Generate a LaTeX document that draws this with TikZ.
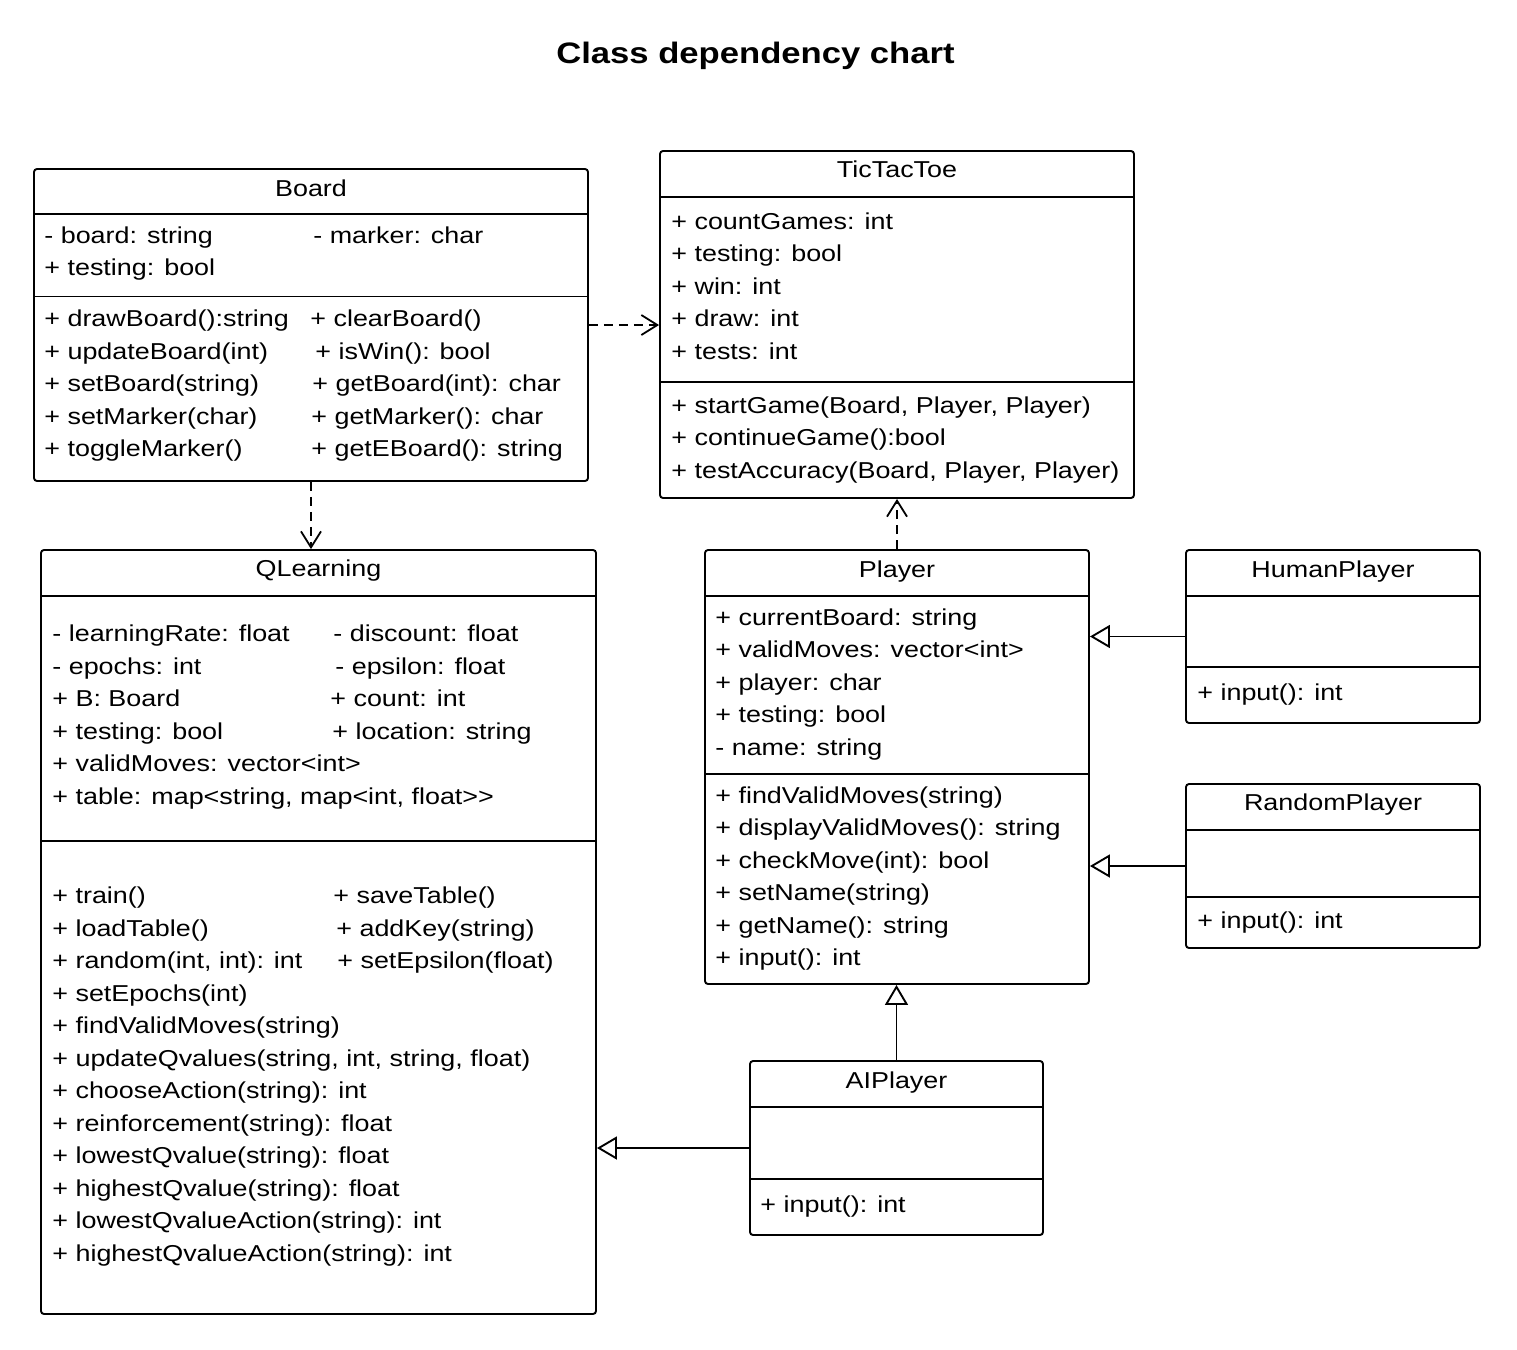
\documentclass[tikz,border=0pt]{standalone}
\usepackage{fontspec}
\setmainfont{Liberation Sans}[FakeStretch=1.17]
\usetikzlibrary{arrows.meta,fit}
\newcommand\umlbody{\fontsize{11.5pt}{14pt}\selectfont}
\newcommand\umlhead{\fontsize{14.8pt}{17pt}\selectfont\bfseries}
\newcommand\umllines[4]{\foreach \t [count=\i from 0] in {#4} {\node[txt] (#1-\i) at (#2,{#3+32.5*\i}) {\t};}}
\tikzset{
  cls/.style={draw, line width=0.95pt, rounded corners=1.5pt, inner sep=0pt},
  txt/.style={anchor=base west, inner sep=0pt, font=\umlbody},
  ttl/.style={anchor=base, inner sep=0pt, font=\umlbody},
  sepline/.style={line width=0.95pt},
  dep/.style={line width=0.9pt, dash pattern=on 4.5pt off 3pt, -{Straight Barb[length=8pt,width=10pt]}},
  gen/.style={line width=0.95pt, -{Triangle[open, length=10pt, width=11.5pt]}}
}
\begin{document}
\begin{tikzpicture}[x=0.5pt, y=-0.5pt]
\fill[white] (0,0) rectangle (1517,1350);
\useasboundingbox (0,0) rectangle (1517,1350);

\node[anchor=base, inner sep=0pt, font=\umlhead] (title) at (755.5,63.3) {Class dependency chart};

% corner coordinates
\coordinate (b1) at (34,169);   \coordinate (b2) at (588,481);
\coordinate (t1) at (660,151);  \coordinate (t2) at (1134,498);
\coordinate (q1) at (41,550);   \coordinate (q2) at (596,1314);
\coordinate (p1) at (705,550);  \coordinate (p2) at (1089,984);
\coordinate (h1) at (1186,550); \coordinate (h2) at (1480,723);
\coordinate (r1) at (1186,784); \coordinate (r2) at (1480,948);
\coordinate (a1) at (750,1061); \coordinate (a2) at (1043,1235);

\node[cls, fit=(b1)(b2)] (board) {};
\node[cls, fit=(t1)(t2)] (ttt) {};
\node[cls, fit=(q1)(q2)] (ql) {};
\node[cls, fit=(p1)(p2)] (player) {};
\node[cls, fit=(h1)(h2)] (human) {};
\node[cls, fit=(r1)(r2)] (random) {};
\node[cls, fit=(a1)(a2)] (ai) {};

% separators
\draw[sepline] (board.west |- 0,214) -- (board.east |- 0,214);
\draw[sepline] (board.west |- 0,296.5) -- (board.east |- 0,296.5);
\draw[sepline] (ttt.west |- 0,197) -- (ttt.east |- 0,197);
\draw[sepline] (ttt.west |- 0,382) -- (ttt.east |- 0,382);
\draw[sepline] (ql.west |- 0,596) -- (ql.east |- 0,596);
\draw[sepline] (ql.west |- 0,841) -- (ql.east |- 0,841);
\draw[sepline] (player.west |- 0,596) -- (player.east |- 0,596);
\draw[sepline] (player.west |- 0,774) -- (player.east |- 0,774);
\draw[sepline] (human.west |- 0,596) -- (human.east |- 0,596);
\draw[sepline] (human.west |- 0,667) -- (human.east |- 0,667);
\draw[sepline] (random.west |- 0,830) -- (random.east |- 0,830);
\draw[sepline] (random.west |- 0,897) -- (random.east |- 0,897);
\draw[sepline] (ai.west |- 0,1107) -- (ai.east |- 0,1107);
\draw[sepline] (ai.west |- 0,1179) -- (ai.east |- 0,1179);

% Board
\node[ttl] (board-title) at (311,196.7) {Board};
\umllines{board-a}{44}{243.3}{- board: string, + testing: bool}
\node[txt] (board-ar) at (313,243.3) {- marker: char};
\umllines{board-m}{44}{326.7}{+ drawBoard():string, + updateBoard(int), + setBoard(string), + setMarker(char), + toggleMarker()}
\node[txt] (board-mr0) at (310,326.7) {+ clearBoard()};
\node[txt] (board-mr1) at (315,359.2) {+ isWin(): bool};
\node[txt] (board-mr2) at (312,391.7) {+ getBoard(int): char};
\node[txt] (board-mr3) at (311,424.2) {+ getMarker(): char};
\node[txt] (board-mr4) at (311,456.7) {+ getEBoard(): string};

% TicTacToe
\node[ttl] (ttt-title) at (897,177.3) {TicTacToe};
\umllines{ttt-a}{671}{229}{+ countGames: int, + testing: bool, + win: int, + draw: int, + tests: int}
\umllines{ttt-m}{671}{413}{{+ startGame(Board, Player, Player)}, + continueGame():bool, {+ testAccuracy(Board, Player, Player)}}

% QLearning
\node[ttl] (ql-title) at (318.5,576.7) {QLearning};
\umllines{ql-a}{52}{641.7}{- learningRate: float, - epochs: int, + B: Board, + testing: bool, + validMoves: vector<int>, {+ table: map<string, map<int, float>{}>}}
\node[txt] (ql-ar0) at (333,641.7) {- discount: float};
\node[txt] (ql-ar1) at (335,674.2) {- epsilon: float};
\node[txt] (ql-ar2) at (330,706.7) {+ count: int};
\node[txt] (ql-ar3) at (332,739.2) {+ location: string};
\umllines{ql-m}{52}{903.7}{+ train(), + loadTable(), {+ random(int, int): int}, + setEpochs(int), + findValidMoves(string), {+ updateQvalues(string, int, string, float)}, + chooseAction(string): int, + reinforcement(string): float, + lowestQvalue(string): float, + highestQvalue(string): float, + lowestQvalueAction(string): int, + highestQvalueAction(string): int}
\node[txt] (ql-mr0) at (333,903.7) {+ saveTable()};
\node[txt] (ql-mr1) at (336,936.2) {+ addKey(string)};
\node[txt] (ql-mr2) at (337,968.7) {+ setEpsilon(float)};

% Player
\node[ttl] (player-title) at (897,577.5) {Player};
\umllines{player-a}{715}{625}{+ currentBoard: string, + validMoves: vector<int>, + player: char, + testing: bool, - name: string}
\umllines{player-m}{715}{803}{+ findValidMoves(string), + displayValidMoves(): string, + checkMove(int): bool, + setName(string), + getName(): string, + input(): int}

% HumanPlayer
\node[ttl] (human-title) at (1333,577.5) {HumanPlayer};
\node[txt] (human-m0) at (1197,700) {+ input(): int};

% RandomPlayer
\node[ttl] (random-title) at (1333,810.5) {RandomPlayer};
\node[txt] (random-m0) at (1197,928) {+ input(): int};

% AIPlayer
\node[ttl] (ai-title) at (896.5,1088.5) {AIPlayer};
\node[txt] (ai-m0) at (760,1212) {+ input(): int};

% connectors
\draw[dep] (board.east) -- (board.east -| ttt.west);
\draw[dep] (board.south) -- (board.south |- ql.north);
\draw[dep] (player.north) -- (player.north |- ttt.south);
\draw[gen] (human.west) -- (human.west -| player.east);
\draw[gen] (random.west) -- (random.west -| player.east);
\draw[gen] (ai.north) -- (ai.north |- player.south);
\draw[gen] (ai.west) -- (ai.west -| ql.east);
\end{tikzpicture}
\end{document}
